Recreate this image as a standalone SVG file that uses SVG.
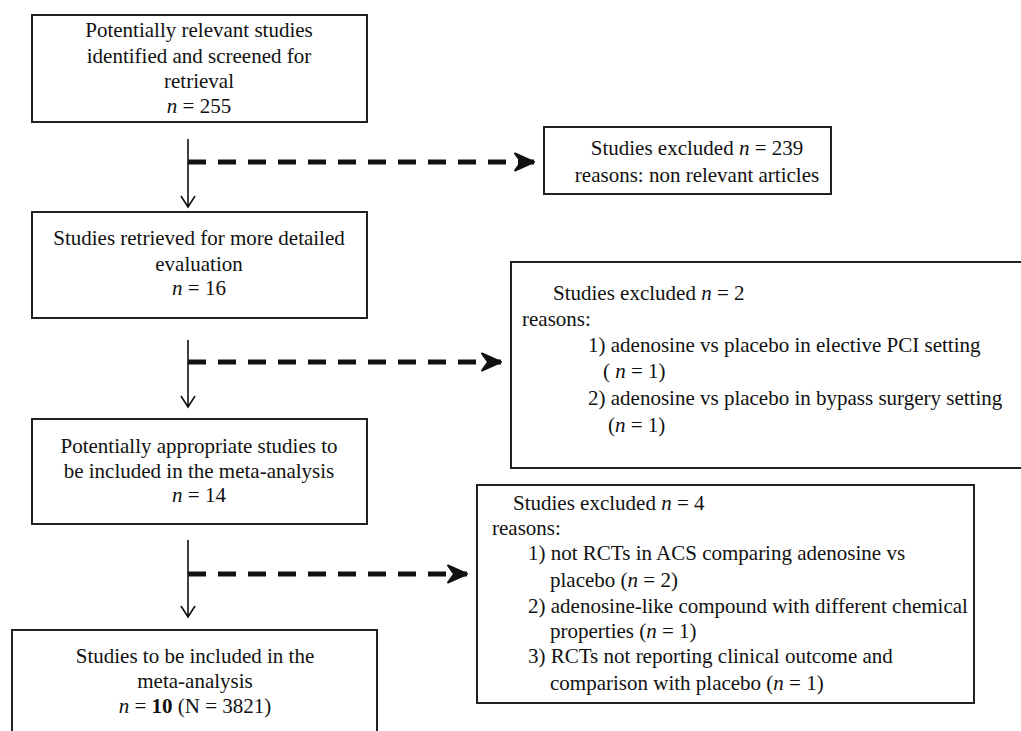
<svg xmlns="http://www.w3.org/2000/svg" width="1021" height="731" viewBox="0 0 1021 731">
<style>
.box{fill:#fff;stroke:#222;stroke-width:2}
text{font-family:'Liberation Serif','DejaVu Serif',serif;font-size:21px;fill:#111}
.c{text-anchor:middle}
.n{font-style:italic}
.b{font-weight:bold}
.v{stroke:#111;stroke-width:1.6;fill:none}
.d{stroke:#111;stroke-width:5;stroke-dasharray:18 12;fill:none}
</style>
<defs>
<marker id="thick" markerUnits="userSpaceOnUse" markerWidth="24" markerHeight="20" refX="22" refY="10" viewBox="0 0 24 20" orient="auto">
<path d="M22,10 L3,1.5 L9,10 L3,18.5 Z" fill="#111" stroke="#111" stroke-width="2" stroke-linejoin="round"/>
</marker>
</defs>
<rect width="1021" height="731" fill="#fff"/>

<g id="connectors">
<path class="v" d="M188,139 V207 M181,196 L188,207 L195,196"/>
<path class="d" d="M188,162 H534" marker-end="url(#thick)"/>
<path class="v" d="M188,340 V407 M181,396 L188,407 L195,396"/>
<path class="d" d="M188,362 H501" marker-end="url(#thick)"/>
<path class="v" d="M188,540 V617 M181,606 L188,617 L195,606"/>
<path class="d" d="M188,574 H467" marker-end="url(#thick)"/>
</g>

<g id="n1">
<rect class="box" x="32" y="15" width="335" height="107"/>
<text class="c" x="199" y="37" font-family="Liberation Serif, serif">Potentially relevant studies</text>
<text class="c" x="199" y="63">identified and screened for</text>
<text class="c" x="199" y="88">retrieval</text>
<text class="c" x="199" y="113"><tspan class="n">n</tspan> = 255</text>
</g>

<g id="x1">
<rect class="box" x="544" y="127" width="287" height="67"/>
<text class="c" x="697" y="155">Studies excluded <tspan class="n">n</tspan> = 239</text>
<text class="c" x="697" y="182">reasons: non relevant articles</text>
</g>

<g id="n2">
<rect class="box" x="32" y="212" width="335" height="106"/>
<text class="c" x="199" y="245">Studies retrieved for more detailed</text>
<text class="c" x="199" y="271">evaluation</text>
<text class="c" x="199" y="295"><tspan class="n">n</tspan> = 16</text>
</g>

<g id="x2">
<rect class="box" x="511" y="262" width="520" height="206"/>
<text x="553" y="300">Studies excluded <tspan class="n">n</tspan> = 2</text>
<text x="522" y="326">reasons:</text>
<text x="588" y="352">1) adenosine vs placebo in elective PCI setting</text>
<text x="603" y="378">( <tspan class="n">n</tspan> = 1)</text>
<text x="588" y="405">2) adenosine vs placebo in bypass surgery setting</text>
<text x="608" y="432">(<tspan class="n">n</tspan> = 1)</text>
</g>

<g id="n3">
<rect class="box" x="32" y="419" width="335" height="105"/>
<text class="c" x="199" y="453">Potentially appropriate studies to</text>
<text class="c" x="199" y="478">be included in the meta-analysis</text>
<text class="c" x="199" y="502"><tspan class="n">n</tspan> = 14</text>
</g>

<g id="x3">
<rect class="box" x="477" y="485" width="497" height="218"/>
<text x="513" y="510">Studies excluded <tspan class="n">n</tspan> = 4</text>
<text x="492" y="535">reasons:</text>
<text x="528" y="560">1) not RCTs in ACS comparing adenosine vs</text>
<text x="550" y="587">placebo (<tspan class="n">n</tspan> = 2)</text>
<text x="528" y="613">2) adenosine-like compound with different chemical</text>
<text x="550" y="638">properties (<tspan class="n">n</tspan> = 1)</text>
<text x="528" y="663">3) RCTs not reporting clinical outcome  and</text>
<text x="550" y="690">comparison with placebo (<tspan class="n">n</tspan> = 1)</text>
</g>

<g id="n4">
<rect class="box" x="12" y="630" width="365" height="120"/>
<text class="c" x="195" y="663">Studies to be included in the</text>
<text class="c" x="195" y="688">meta-analysis</text>
<text class="c" x="195" y="713"><tspan class="n">n</tspan> = <tspan class="b">10</tspan> (N = 3821)</text>
</g>
</svg>
